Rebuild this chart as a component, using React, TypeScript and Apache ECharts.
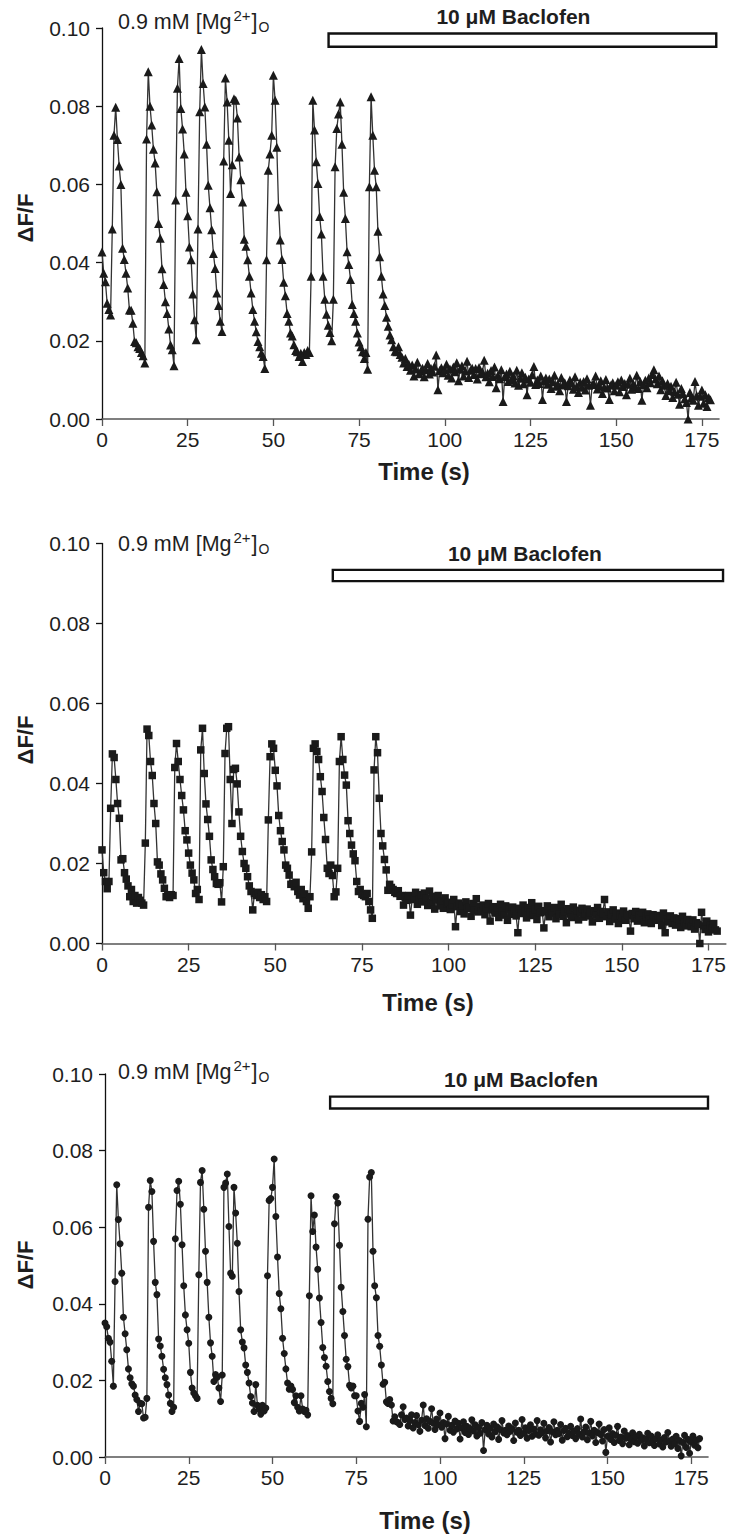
import React, { useEffect, useRef } from "react";
import * as echarts from "echarts";

// sampling step of all traces (s)
const STEP = 0.5;

// ΔF/F values in thousandths (x 0.001), one every 0.5 s from t = 0
const topValues = [
  42.7, 37.3, 35.1, 29.6, 28.0, 26.6, 48.6, 72.6, 79.7, 71.5,
  64.7, 60.0, 43.7, 40.8, 37.3, 33.5, 27.9, 27.8, 24.5, 19.8,
  19.5, 18.5, 18.0, 17.0, 16.2, 14.3, 71.6, 88.8, 80.0, 75.2,
  69.0, 65.5, 58.1, 50.0, 46.2, 38.4, 34.4, 30.0, 27.0, 23.0,
  18.9, 17.7, 13.6, 56.0, 84.6, 92.2, 79.4, 74.2, 67.8, 58.0,
  52.0, 44.0, 40.7, 32.0, 25.4, 20.3, 48.6, 78.6, 94.5, 85.8,
  79.8, 70.3, 59.8, 54.0, 48.4, 42.3, 38.5, 32.2, 29.0, 25.0,
  22.4, 66.0, 87.2, 81.1, 71.3, 57.7, 65.0, 81.9, 81.5, 77.0,
  67.0, 61.2, 55.5, 46.0, 44.2, 40.7, 36.5, 32.2, 28.0, 25.0,
  22.3, 19.8, 18.5, 16.8, 16.0, 12.9, 40.7, 63.6, 67.8, 72.6,
  87.9, 81.5, 69.5, 54.3, 45.8, 40.8, 35.0, 31.5, 27.0, 25.0,
  22.0, 21.2, 19.0, 17.5, 17.2, 16.0, 16.8, 14.7, 17.0, 16.5,
  17.5, 17.0, 36.5, 81.5, 73.9, 65.8, 60.2, 51.8, 47.3, 36.5,
  30.6, 26.8, 24.0, 22.1, 20.0, 30.6, 64.5, 74.3, 78.0, 81.1,
  70.3, 58.0, 51.3, 42.8, 39.5, 35.7, 29.3, 27.0, 25.0, 22.0,
  19.7, 18.5, 17.2, 15.5, 17.0, 12.7, 59.4, 82.4, 72.6, 63.6,
  59.4, 48.0, 41.5, 36.5, 32.0, 29.0, 26.0, 23.7, 21.5, 20.3,
  18.5, 17.3, 17.2, 18.5, 16.5, 15.8, 14.3, 15.5, 13.4, 14.0,
  12.5, 13.8, 11.0, 12.8, 14.5, 11.6, 12.2, 13.0, 10.8, 12.6, 14.2, 11.5, 12.9, 12.0, 13.5, 16.4, 7.5, 12.4, 13.1, 11.8,
  12.6, 14.0, 11.2, 12.8, 10.5, 13.3, 12.1, 14.4, 9.8, 12.7, 13.6, 11.0, 12.3, 14.8, 10.6, 12.5, 13.0, 11.4, 12.9, 10.2,
  13.2, 11.6, 12.0, 15.0, 10.8, 11.7, 9.5, 12.4, 10.9, 13.3, 8.0, 11.2, 10.3, 12.6, 4.5, 10.8, 11.5, 9.6, 12.2, 10.1,
  11.0, 9.2, 12.5, 8.6, 10.4, 11.8, 9.0, 10.7, 6.2, 10.2, 9.4, 11.3, 13.4, 8.8, 10.0, 9.1, 11.0, 5.0, 9.7, 10.5,
  8.9, 10.2, 7.8, 9.5, 11.2, 8.4, 9.0, 7.2, 10.6, 8.7, 9.3, 4.5, 8.5, 10.0, 9.2, 7.6, 10.8, 8.3, 6.8, 9.4,
  8.1, 9.6, 7.4, 10.3, 8.6, 3.5, 8.8, 9.0, 11.0, 7.7, 8.5, 9.8, 6.5, 8.2, 10.1, 7.9, 5.0, 8.7, 9.3, 7.2,
  8.6, 9.5, 7.0, 10.0, 8.3, 9.1, 6.2, 8.9, 10.4, 7.6, 9.0, 8.2, 11.2, 7.8, 9.6, 4.8, 8.8, 9.9, 8.0, 10.5,
  9.3, 11.4, 12.6, 10.2, 9.0, 11.0, 7.5, 9.8, 8.6, 6.0, 9.1, 7.2, 8.4, 5.5, 7.0, 9.4, 6.3, 3.8, 7.8, 6.5,
  5.2, 4.2, 0.0, 6.8, 5.5, 4.8, 9.6, 6.0, 3.5, 5.8, 7.4, 4.0, 6.2, 3.2, 5.5, 4.9,
];

const middleValues = [
  23.4, 17.7, 15.5, 13.7, 15.5, 33.8, 47.4, 46.5, 41.0, 35.0,
  31.3, 20.9, 21.2, 17.7, 16.1, 14.4, 11.7, 13.5, 10.5, 12.0,
  10.1, 11.5, 10.8, 10.1, 9.6, 25.1, 53.6, 52.0, 45.5, 42.0,
  35.0, 30.0, 20.4, 19.6, 17.4, 15.9, 13.8, 11.7, 12.0, 11.5,
  12.2, 12.0, 44.0, 50.0, 45.5, 41.0, 37.0, 33.4, 28.2, 25.9,
  22.6, 19.6, 17.6, 15.9, 12.5, 13.5, 11.0, 48.4, 53.8, 42.5,
  34.9, 31.0, 26.8, 20.9, 18.5, 16.7, 15.0, 14.8, 15.2, 10.4,
  19.2, 47.5, 53.8, 54.2, 41.0, 30.0, 43.5, 43.8, 39.9, 32.9,
  26.8, 23.0, 20.0, 18.8, 16.7, 14.4, 13.0, 8.4, 12.5, 12.0,
  12.8, 11.5, 12.2, 11.0, 11.7, 10.5, 30.9, 46.7, 49.9, 48.8,
  43.3, 39.4, 32.0, 28.2, 25.5, 23.4, 19.6, 18.8, 17.1, 14.8,
  15.0, 14.2, 15.3, 13.0, 12.1, 13.5, 11.2, 12.4, 10.5, 8.8,
  11.7, 22.9, 48.8, 49.9, 48.0, 46.0, 41.7, 38.0, 31.5, 26.0,
  18.8, 17.5, 19.6, 17.0, 11.7, 12.9, 18.8, 45.5, 51.7, 46.0,
  42.1, 39.6, 30.7, 27.5, 24.6, 22.4, 20.7, 15.5, 13.0, 13.5,
  12.3, 12.0, 11.7, 12.5, 10.5, 8.4, 6.3, 43.4, 51.7, 47.7,
  36.3, 27.5, 24.4, 21.0, 18.4, 13.3, 14.8, 14.0, 13.5, 12.8,
  12.5, 13.2, 11.8, 12.0, 9.6, 11.5, 10.8, 12.0, 7.1, 11.0,
  11.5, 12.8, 9.8, 11.0, 12.2, 10.4, 12.6, 11.3, 9.5, 13.1, 10.2, 11.8, 8.6, 10.9, 12.0, 9.4, 10.6, 8.8, 11.4, 9.9,
  10.3, 8.5, 9.7, 11.0, 4.2, 9.2, 10.1, 8.0, 9.5, 7.4, 10.4, 8.8, 9.0, 6.8, 10.0, 8.3, 11.2, 7.9, 9.3, 8.1,
  9.6, 7.2, 8.7, 10.0, 5.6, 8.4, 9.2, 7.6, 8.9, 6.5, 9.8, 8.0, 7.1, 9.4, 5.8, 8.6, 7.3, 9.1, 8.2, 6.9,
  2.7, 8.8, 7.5, 9.6, 8.1, 6.4, 9.0, 7.8, 10.2, 7.0, 8.5, 6.0, 9.3, 7.7, 8.2, 3.9, 7.9, 9.4, 6.7, 8.3,
  7.6, 9.0, 6.2, 8.4, 7.3, 9.8, 6.8, 8.0, 5.2, 8.7, 7.4, 6.5, 9.1, 7.0, 8.3, 5.9, 7.8, 8.8, 6.6, 7.5,
  8.6, 6.9, 7.7, 5.4, 8.2, 7.1, 9.0, 6.3, 8.0, 7.4, 11.0, 6.7, 7.9, 5.5, 7.2, 8.4, 6.1, 7.6, 5.0, 7.0,
  6.5, 8.1, 5.8, 7.3, 6.9, 3.1, 7.5, 6.2, 8.0, 5.6, 7.1, 6.4, 7.8, 5.2, 6.8, 7.4, 6.0, 5.0, 7.2, 6.6,
  5.8, 7.0, 6.3, 4.5, 7.6, 2.7, 6.1, 5.4, 6.9, 5.0, 6.4, 4.6, 6.2, 5.7, 4.0, 6.8, 5.3, 4.4, 6.0, 5.1,
  4.2, 5.9, 3.6, 5.2, 4.8, 0.0, 7.8, 4.4, 3.5, 5.6, 2.9, 4.6, 3.8, 5.0, 3.4, 3.1,
];

const bottomValues = [
  35.0, 34.0, 31.0, 30.0, 25.0, 18.5, 45.8, 71.1, 62.0, 55.7,
  48.0, 36.5, 32.2, 28.0, 23.0, 20.7, 19.1, 18.5, 16.2, 15.0,
  11.9, 14.0, 13.9, 10.2, 10.4, 15.3, 65.2, 72.2, 69.3, 56.3,
  45.6, 42.4, 30.8, 29.0, 26.3, 22.9, 20.7, 18.9, 16.2, 14.0,
  11.9, 13.0, 57.0, 69.6, 72.0, 66.0, 55.4, 44.7, 37.1, 33.2,
  29.7, 22.1, 18.0, 16.7, 16.0, 15.3, 47.6, 71.7, 74.8, 64.7,
  53.7, 45.6, 36.5, 29.8, 26.3, 19.7, 21.5, 20.8, 18.0, 14.5,
  21.4, 70.4, 71.5, 73.9, 60.2, 48.0, 47.2, 70.4, 63.7, 55.8,
  43.2, 33.2, 30.0, 28.5, 24.0, 22.1, 19.3, 15.8, 14.1, 11.9,
  18.9, 13.5, 12.5, 11.2, 13.5, 12.0, 12.8, 47.3, 67.0, 67.5,
  70.4, 77.8, 62.8, 52.2, 42.7, 38.7, 31.0, 27.0, 23.0, 19.3,
  17.7, 18.5, 17.6, 14.2, 16.0, 13.0, 12.0, 16.0, 12.5, 11.9,
  12.2, 11.0, 42.1, 68.2, 58.9, 63.2, 54.8, 49.0, 41.5, 35.1,
  28.6, 26.0, 23.7, 19.7, 17.1, 15.3, 13.9, 60.9, 68.0, 66.3,
  55.3, 44.3, 38.0, 31.7, 25.5, 23.6, 18.7, 18.0, 18.5, 16.0,
  16.0, 12.0, 9.3, 14.0, 13.0, 16.3, 7.9, 62.1, 73.1, 74.3,
  53.7, 44.7, 41.6, 31.7, 28.9, 24.0, 19.0, 19.5, 14.4, 14.0,
  15.0, 13.6, 9.4, 10.5, 9.2, 9.0, 8.5, 11.0, 13.1, 9.8,
  10.2, 8.1, 9.5, 11.0, 7.6, 9.0, 10.8, 8.4, 6.7, 9.6, 13.6, 8.2, 10.0, 7.5, 9.3, 12.6, 8.8, 7.2, 9.9, 8.5,
  11.5, 7.8, 9.0, 4.8, 8.6, 10.6, 7.0, 8.3, 6.5, 9.4, 7.3, 8.8, 4.7, 7.6, 9.2, 6.4, 8.0, 5.9, 7.4, 9.7,
  6.8, 8.4, 5.5, 7.7, 6.2, 9.0, 1.7, 7.1, 8.3, 6.0, 7.5, 5.2, 8.6, 6.6, 7.9, 4.6, 7.2, 9.5, 6.3, 7.0,
  5.8, 8.1, 6.7, 7.4, 4.3, 8.9, 6.5, 7.0, 5.6, 9.8, 6.2, 7.6, 4.9, 6.9, 8.4, 5.4, 7.3, 6.0, 9.5, 5.7,
  7.1, 6.4, 8.8, 5.0, 6.8, 7.7, 3.9, 6.6, 9.2, 5.8, 7.0, 6.1, 8.5, 4.4, 6.9, 7.5, 5.3, 6.2, 8.0, 5.6,
  6.7, 4.8, 7.4, 6.0, 9.9, 5.2, 6.5, 7.8, 4.5, 6.3, 9.3, 5.5, 7.0, 3.8, 6.4, 8.6, 5.9, 4.2, 7.2, 1.2,
  5.4, 7.6, 4.6, 6.1, 3.8, 5.7, 8.0, 4.3, 5.2, 3.5, 6.8, 4.9, 5.6, 3.2, 4.7, 6.3, 4.0, 5.3, 3.6, 5.9,
  4.4, 5.0, 2.9, 4.6, 6.2, 3.7, 5.5, 4.1, 3.0, 4.8, 5.8, 3.4, 4.5, 2.6, 5.1, 3.9, 6.4, 4.2, 2.8, 4.7,
  3.5, 5.4, 2.2, 4.3, 0.3, 3.8, 5.7, 2.5, 4.6, 1.0, 3.9, 5.5, 3.1, 4.4, 2.4, 4.8,
];

const xTicks = [0, 25, 50, 75, 100, 125, 150, 175];
const yTicks = [0, 0.02, 0.04, 0.06, 0.08, 0.1];
const X_MAX = 180;
const Y_MAX = 0.1;

// Baclofen application bars [start s, end s, lower ΔF/F, upper ΔF/F]
const baclofenBars = [
  [66.1, 179.2, 0.0952, 0.0986],
  [66.6, 179.2, 0.0906, 0.0934],
  [67.2, 180.0, 0.0910, 0.0941],
];
const baclofenLabel = "10 μM Baclofen";
const yAxisTitle = "ΔF/F";
const xAxisTitle = "Time (s)";

const FONT = "'Liberation Sans', Arial, Helvetica, sans-serif";
const INK = "#1e1e1e";

const panels = [
  { values: topValues, symbol: "triangle", size: 9, grid: { left: 102, top: 28, width: 617, height: 391 }, labelOffset: -9 },
  { values: middleValues, symbol: "rect", size: 7.5, grid: { left: 102, top: 543.5, width: 627, height: 400 }, labelOffset: -3 },
  { values: bottomValues, symbol: "circle", size: 7, grid: { left: 105, top: 1074, width: 603, height: 383 }, labelOffset: 2 },
];

const nameCenters = [
  { yName: [25, 218], xName: [424, 471], mg: [118, 8] },
  { yName: [25, 740], xName: [428, 1002], mg: [118, 530] },
  { yName: [25, 1265], xName: [425, 1520], mg: [118, 1058] },
];

export default function App() {
  const ref = useRef<HTMLDivElement>(null);
  useEffect(() => {
    if (!ref.current) return;
    const chart = echarts.init(ref.current, null, { renderer: "svg" });
    const grids = panels.map((p) => ({ ...p.grid, containLabel: false }));
    const xAxes = panels.map((p, i) => ({
      type: "value",
      gridIndex: i,
      min: 0,
      max: X_MAX,
      interval: 25,
      splitLine: { show: false },
      axisLine: { show: true, onZero: false, lineStyle: { color: "#555", width: 1.6 } },
      axisTick: { show: true, length: 7, customValues: xTicks, lineStyle: { color: "#555", width: 1.3 } },
      axisLabel: { customValues: xTicks, margin: 10, fontSize: 21, color: INK, fontFamily: FONT },
    }));
    const yAxes = panels.map((p, i) => ({
      type: "value",
      gridIndex: i,
      min: 0,
      max: Y_MAX,
      interval: 0.02,
      splitLine: { show: false },
      axisLine: { show: true, lineStyle: { color: "#111", width: 1.3 } },
      axisTick: { show: true, length: 6, customValues: yTicks, lineStyle: { color: "#111", width: 1.3 } },
      axisLabel: {
        customValues: yTicks,
        margin: 12,
        fontSize: 21,
        color: INK,
        fontFamily: FONT,
        formatter: (v: number) => v.toFixed(2),
      },
    }));
    const series = panels.map((p, i) => {
      const bar = baclofenBars[i];
      return {
        type: "line",
        xAxisIndex: i,
        yAxisIndex: i,
        data: p.values.map((v, k) => [k * STEP, v / 1000]),
        symbol: p.symbol,
        symbolSize: p.size,
        showSymbol: true,
        showAllSymbol: true,
        lineStyle: { color: "#333", width: 1.3 },
        itemStyle: { color: "#1a1a1a" },
        emphasis: { disabled: true },
        clip: false,
        markArea: {
          silent: true,
          itemStyle: { color: "#fff", borderColor: "#111", borderWidth: 2.4 },
          label: {
            show: true,
            position: "top",
            distance: 5,
            offset: [p.labelOffset, 0],
            formatter: baclofenLabel,
            fontSize: 21,
            fontWeight: "bold",
            color: INK,
            fontFamily: FONT,
          },
          data: [[{ xAxis: bar[0], yAxis: bar[2] }, { xAxis: bar[1], yAxis: bar[3] }]],
        },
      };
    });
    const graphic: any[] = [];
    nameCenters.forEach((c) => {
      graphic.push({
        type: "text",
        x: c.yName[0],
        y: c.yName[1],
        rotation: Math.PI / 2,
        style: {
          text: yAxisTitle,
          fontSize: 22,
          fontWeight: "bold",
          fontFamily: FONT,
          fill: INK,
          align: "center",
          verticalAlign: "middle",
        },
      });
      graphic.push({
        type: "text",
        x: c.xName[0],
        y: c.xName[1],
        style: {
          text: xAxisTitle,
          fontSize: 24,
          fontWeight: "bold",
          fontFamily: FONT,
          fill: INK,
          align: "center",
          verticalAlign: "middle",
        },
      });
      graphic.push({
        type: "text",
        x: c.mg[0],
        y: c.mg[1],
        style: {
          text: "{n|0.9 mM [Mg}{sup|2+}{n|]}{sub|O}",
          fill: INK,
          fontFamily: FONT,
          rich: {
            n: { fontSize: 21.5, lineHeight: 28, verticalAlign: "middle", fontFamily: FONT, fill: INK },
            sup: { fontSize: 15, lineHeight: 15, verticalAlign: "top", fontFamily: FONT, fill: INK, padding: [0, 1, 0, 2] },
            sub: { fontSize: 14, lineHeight: 14, verticalAlign: "bottom", fontFamily: FONT, fill: INK, padding: [0, 0, 2, 1] },
          },
        },
      });
    });
    chart.setOption({
      animation: false,
      backgroundColor: "#fff",
      grid: grids,
      xAxis: xAxes,
      yAxis: yAxes,
      series,
      graphic,
    });
    return () => chart.dispose();
  }, []);
  return (
    <div
      ref={ref}
      style={{ position: "absolute", left: 0, top: 0, width: 729, height: 1536 }}
    />
  );
}
